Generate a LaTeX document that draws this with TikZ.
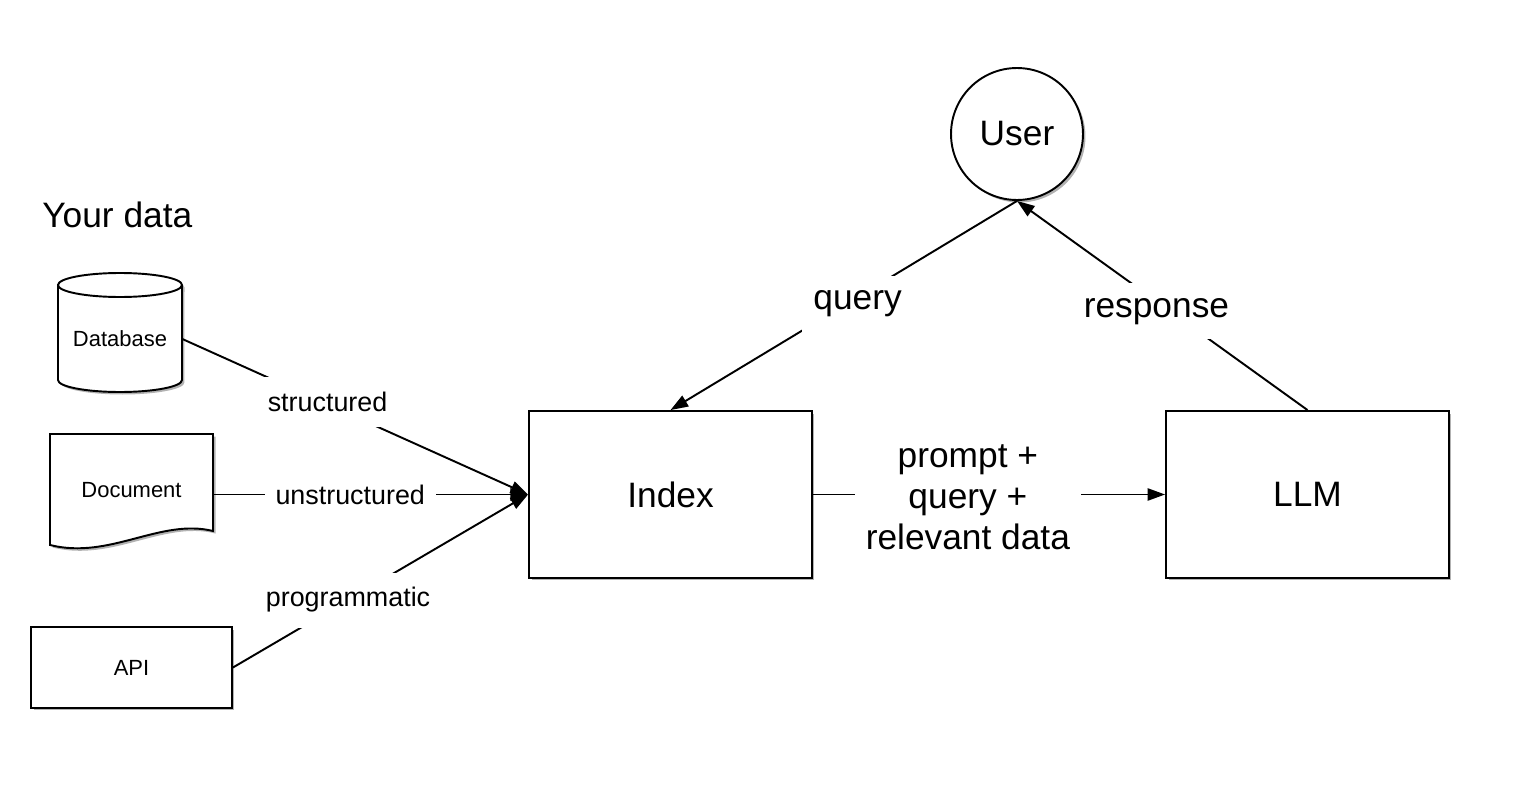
\documentclass[tikz,border=0pt]{standalone}
\usepackage{fontspec}
\setmainfont{Liberation Sans}
\usetikzlibrary{arrows.meta,shadows}
\begin{document}
\begin{tikzpicture}[x=0.02cm,y=-0.02cm,
  shd/.style={drop shadow={shadow xshift=0.05cm, shadow yshift=-0.05cm, opacity=0.3, fill=black}},
  shp/.style={draw, line width=1.1pt, fill=white, shd},
  box/.style={shp, rectangle, inner sep=0pt},
  small/.style={font=\fontsize{12.5}{15}\selectfont},
  big/.style={font=\fontsize{20.1}{23.2}\selectfont},
  lab/.style={fill=white, inner xsep=0.22cm, inner ysep=0.3cm},
  lsmall/.style={lab, font=\fontsize{15.3}{18}\selectfont},
  lbig/.style={lab, font=\fontsize{20.1}{23.2}\selectfont, align=center},
  conn/.style={line width=1.1pt, -{Triangle[length=10pt,width=7pt]}}
]
\useasboundingbox (0,0) rectangle (1536,808);

% title
\node[big, anchor=west, inner sep=0pt] (title) at (42,215) {Your data};

% database cylinder
\path[shp] (58,285) -- (58,380) arc[start angle=180, end angle=360, x radius=1.24cm, y radius=0.24cm]
  -- (182,285) arc[start angle=0, end angle=180, x radius=1.24cm, y radius=0.24cm] -- cycle;
\draw[line width=1.1pt] (58,285) arc[start angle=180, end angle=360, x radius=1.24cm, y radius=0.24cm];
\node[small, minimum width=2.48cm, inner sep=0pt] (db) at (120,339) {Database};

% document
\path[shp] (50,434) -- (213,434) -- (213,531) .. controls (160,518) and (110,560) .. (50,545) -- cycle;
\node[small, minimum width=3.26cm, inner sep=0pt] (doc) at (131.5,490) {Document};

% API
\node[box, small, minimum width=4.02cm, minimum height=1.62cm] (api) at (131.5,667.5) {API};

% Index and LLM
\node[box, big, minimum width=5.66cm, minimum height=3.34cm] (index) at (670.5,494.5) {Index};
\node[box, big, minimum width=5.66cm, minimum height=3.34cm] (llm) at (1307.5,494.5) {LLM};

% User
\node[shp, circle, big, minimum size=2.64cm, inner sep=0pt] (user) at (1017,134) {User};

% connectors
\draw[conn] (db.east) -- node[lsmall, pos=0.42, yshift=0.04cm] {structured} (index.west);
\draw[conn] (doc.east |- index.west) -- node[lsmall, pos=0.435] {unstructured} (index.west);
\draw[conn] (api.east) -- node[lsmall, pos=0.39] {programmatic} (index.west);
\draw[conn] (user.south) -- node[lbig, pos=0.46, yshift=-0.14cm] {query} (index.north);
\draw[conn] (llm.north) -- node[lbig, pos=0.52, yshift=-0.2cm] {response} (user.south);
\draw[conn] (index.east) -- node[lbig, pos=0.44, yshift=-0.06cm] {prompt +\\query +\\relevant data} (llm.west);
\end{tikzpicture}
\end{document}
